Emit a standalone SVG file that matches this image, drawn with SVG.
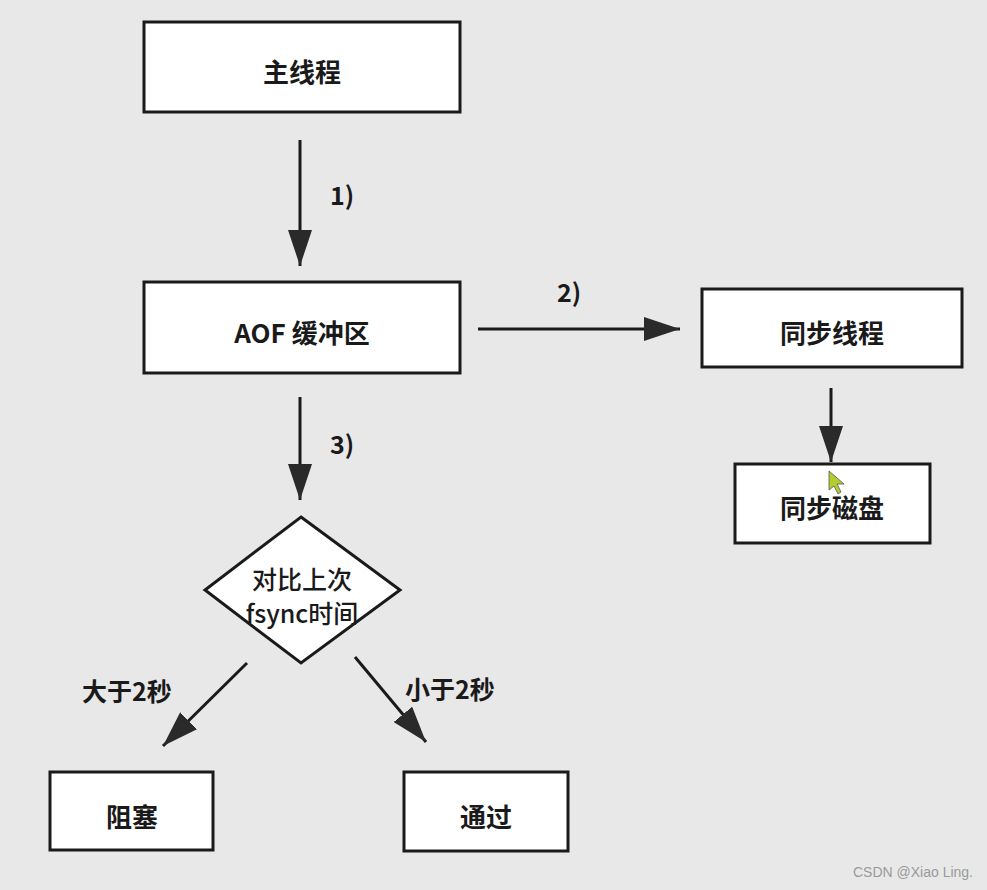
<svg xmlns="http://www.w3.org/2000/svg" width="987" height="890" viewBox="0 0 987 890">
<defs>
<style>
.box{fill:#ffffff;stroke:#1a1a1a;stroke-width:3}
.t{font-family:"Noto Sans CJK SC","Noto Sans",sans-serif;font-size:26px;font-weight:bold;fill:#1a1a1a;text-anchor:middle;dominant-baseline:central}
.d{font-family:"Noto Sans CJK SC","Noto Sans",sans-serif;font-size:25px;font-weight:500;fill:#1a1a1a;text-anchor:middle;dominant-baseline:central}
.lbl{font-family:"Noto Sans CJK SC","Noto Sans",sans-serif;font-size:25px;font-weight:bold;fill:#1a1a1a}
</style>
<marker id="ahb" viewBox="0 0 36 24" refX="36" refY="12" markerWidth="36" markerHeight="24" markerUnits="userSpaceOnUse" orient="auto">
<path d="M0,0 L36,12 L0,24 Z" fill="#2a2a2a"/>
</marker>
</defs>
<rect width="987" height="890" fill="#e8e8e8"/>
<g id="connectors" stroke="#1a1a1a" stroke-width="3" fill="none">
<line x1="300" y1="140" x2="300" y2="266" marker-end="url(#ahb)"/>
<line x1="478" y1="329" x2="680" y2="329" marker-end="url(#ahb)"/>
<line x1="831" y1="388" x2="831" y2="462" marker-end="url(#ahb)"/>
<line x1="300" y1="397" x2="300" y2="500" marker-end="url(#ahb)"/>
<line x1="247" y1="663" x2="163" y2="746" marker-end="url(#ahb)"/>
<line x1="355" y1="657" x2="426" y2="742" marker-end="url(#ahb)"/>
</g>
<g id="labels">
<text class="lbl" x="330" y="205">1)</text>
<text class="lbl" x="557" y="302">2)</text>
<text class="lbl" x="330" y="454">3)</text>
<text class="lbl" x="82" y="701">大于2秒</text>
<text class="lbl" x="405" y="699">小于2秒</text>
</g>
<g id="main">
<rect class="box" x="144" y="22" width="316" height="90"/>
<text class="t" x="302" y="70">主线程</text>
</g>
<g id="aof">
<rect class="box" x="144" y="282" width="316" height="91"/>
<text class="t" x="302" y="331">AOF 缓冲区</text>
</g>
<g id="sync-thread">
<rect class="box" x="702" y="289" width="260" height="78"/>
<text class="t" x="832" y="331">同步线程</text>
</g>
<g id="sync-disk">
<rect class="box" x="735" y="464" width="195" height="79"/>
<text class="t" x="832" y="506">同步磁盘</text>
</g>
<g id="compare">
<polygon points="301,517 400,590 301,663 205,590" fill="#ffffff" stroke="#1a1a1a" stroke-width="3"/>
<text class="d" x="302" y="578">对比上次</text>
<text class="d" x="302" y="612">fsync时间</text>
</g>
<g id="block">
<rect class="box" x="50" y="772" width="163" height="78"/>
<text class="t" x="132" y="815">阻塞</text>
</g>
<g id="pass">
<rect class="box" x="404" y="772" width="164" height="79"/>
<text class="t" x="486" y="815">通过</text>
</g>
<polygon points="829,471 829,490 834,486 838,494 841,492 837,484 844,484" fill="#b5cc2e" stroke="#555" stroke-width="0.8"/>
<text x="973" y="877" font-family="'Liberation Sans',sans-serif" font-size="14" fill="#9a9a9a" text-anchor="end">CSDN @Xiao Ling.</text>
</svg>
